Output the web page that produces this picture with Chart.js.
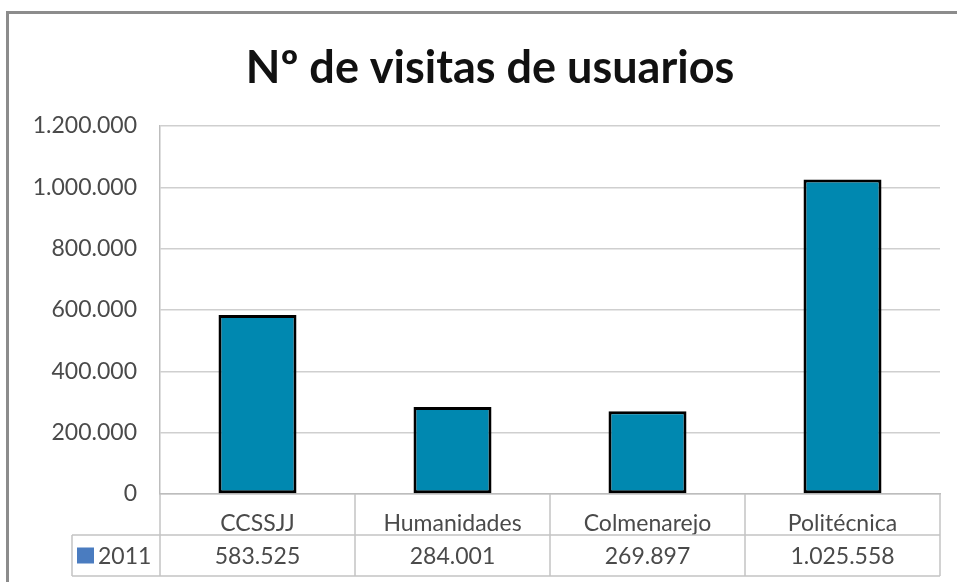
<!DOCTYPE html>
<html>
<head>
<meta charset="utf-8">
<script src="https://cdn.jsdelivr.net/npm/chart.js@4/dist/chart.umd.min.js"></script>
<style>
  html, body { margin: 0; padding: 0; background: #ffffff; }
  #wrap { position: relative; width: 957px; height: 582px; overflow: hidden; }
  #frame {
    position: absolute; left: 6px; top: 11px; width: 980px; height: 600px;
    border-left: 3px solid #8c8c8c; border-top: 3px solid #8c8c8c;
    pointer-events: none;
  }
</style>
</head>
<body>
<div id="wrap">
  <canvas id="chart" width="957" height="582"></canvas>
  <div id="frame"></div>
</div>
<script>
"use strict";

var title_text = 'Nº de visitas de usuarios';
var categories = ['CCSSJJ', 'Humanidades', 'Colmenarejo', 'Politécnica'];
var series_name = '2011';
var visits_2011 = [583525, 284001, 269897, 1025558];
var y_ticks = [0, 200000, 400000, 600000, 800000, 1000000, 1200000];

var font_family = 'Lato, "Noto Sans", sans-serif';
var text_color = '#4a4a4a';
var table_line = '#c4c4c4';

var format_thousands = function (value) {
  return String(value).replace(/\B(?=(\d{3})+(?!\d))/g, '.');
};

// The title sits a bit right of the canvas centre, over the framed area.
var title_shift = {
  id: 'title_shift',
  afterLayout: function (chart) {
    if (chart.titleBlock != null) {
      chart.titleBlock.left = 40;
    }
  }
};

// Data table under the x axis, like the Excel chart.
var data_table = {
  id: 'data_table',
  afterDraw: function (chart) {
    var ctx, xs, area, half, row2, bottom, legend_left, i, cx, mid;
    ctx = chart.ctx;
    xs = chart.scales.x;
    area = chart.chartArea;
    half = (xs.getPixelForValue(1) - xs.getPixelForValue(0)) / 2;
    row2 = area.bottom + 41;
    bottom = area.bottom + 82;
    legend_left = 72;

    ctx.save();
    ctx.strokeStyle = table_line;
    ctx.lineWidth = 1.5;
    ctx.beginPath();
    ctx.moveTo(legend_left, row2); ctx.lineTo(area.right, row2);
    ctx.moveTo(legend_left, bottom); ctx.lineTo(area.right, bottom);
    ctx.moveTo(legend_left, row2); ctx.lineTo(legend_left, bottom);
    ctx.moveTo(area.left, area.bottom); ctx.lineTo(area.left, bottom);
    for (i = 0; i < categories.length; i++) {
      cx = xs.getPixelForValue(i) + half;
      ctx.moveTo(cx, area.bottom); ctx.lineTo(cx, bottom);
    }
    ctx.stroke();

    mid = (row2 + bottom) / 2;
    ctx.font = '23px ' + font_family;
    ctx.fillStyle = text_color;
    ctx.textAlign = 'center';
    ctx.textBaseline = 'middle';
    for (i = 0; i < visits_2011.length; i++) {
      ctx.fillText(format_thousands(visits_2011[i]), xs.getPixelForValue(i), mid + 1);
    }

    // legend key
    ctx.fillStyle = '#4a7cc0';
    ctx.fillRect(77, mid - 8, 17, 16);
    ctx.fillStyle = text_color;
    ctx.textAlign = 'left';
    ctx.fillText(series_name, 98, mid + 1);
    ctx.restore();
  }
};

new Chart(document.getElementById('chart').getContext('2d'), {
  type: 'bar',
  data: {
    labels: categories,
    datasets: [{
      label: series_name,
      data: visits_2011,
      backgroundColor: '#0088b0',
      borderColor: '#000000',
      borderWidth: 3,
      borderSkipped: false,
      categoryPercentage: 1,
      barPercentage: 0.4
    }]
  },
  options: {
    responsive: false,
    animation: false,
    layout: {
      padding: { top: 0, bottom: 6, left: 0, right: 17 }
    },
    plugins: {
      legend: { display: false },
      tooltip: { enabled: false },
      title: {
        display: true,
        text: title_text,
        color: '#111111',
        font: { family: font_family, size: 45, weight: 'bold', lineHeight: 1.2 },
        padding: { top: 41, bottom: 31 }
      }
    },
    scales: {
      x: {
        grid: { display: false },
        border: { display: true, color: '#bdbdbd', width: 1.5 },
        ticks: {
          color: text_color,
          font: { family: font_family, size: 23 },
          padding: 8,
          maxRotation: 0
        },
        afterFit: function (scale) { scale.height = 82; }
      },
      y: {
        min: 0,
        max: 1200000,
        afterBuildTicks: function (scale) {
          scale.ticks = y_ticks.map(function (v) { return { value: v }; });
        },
        grid: { color: '#cfcfcf', lineWidth: 1.5, drawTicks: false },
        border: { display: true, color: '#bdbdbd', width: 1.5 },
        ticks: {
          color: text_color,
          font: { family: font_family, size: 23 },
          padding: 23,
          callback: function (value) { return format_thousands(value); }
        },
        afterFit: function (scale) { scale.width = 160; }
      }
    }
  },
  plugins: [title_shift, data_table]
});
</script>
</body>
</html>
